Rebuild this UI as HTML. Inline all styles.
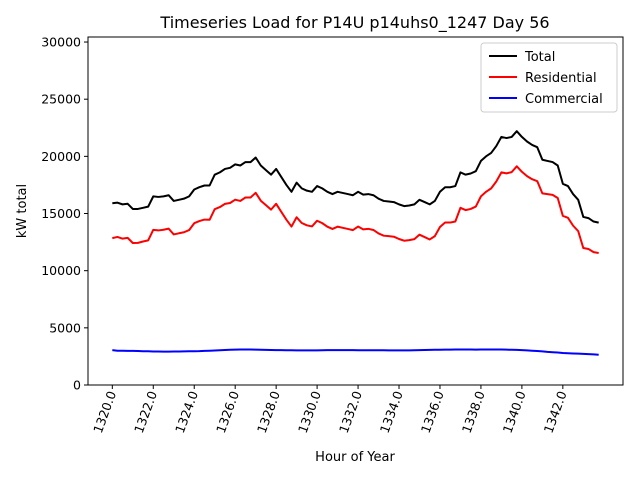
<!DOCTYPE html>
<html><head><meta charset="utf-8"><style>
body{margin:0;background:#fff}
svg text{font-family:"DejaVu Sans","Liberation Sans",sans-serif;fill:#000}
</style></head><body>
<svg id="chart" width="640" height="480" xmlns="http://www.w3.org/2000/svg">
<rect width="640" height="480" fill="#fff"/>
<text x="355" y="28" font-size="16" text-anchor="middle">Timeseries Load for P14U p14uhs0_1247  Day 56</text>
<g id="plot"></g>
<rect x="88" y="37" width="535" height="348" fill="none" stroke="#000" stroke-width="1"/>
<text transform="translate(26,211) rotate(-90)" font-size="13" text-anchor="middle">kW total</text>
<text x="355" y="461" font-size="13" text-anchor="middle">Hour of Year</text>
<g>
<rect x="481" y="43" width="136" height="69" rx="3" fill="#fff" stroke="#ccc"/>
<line x1="489" y1="56" x2="517" y2="56" stroke="#000" stroke-width="2"/>
<text x="525" y="61" font-size="13">Total</text>
<line x1="489" y1="77" x2="517" y2="77" stroke="#f00" stroke-width="2"/>
<text x="525" y="82" font-size="13">Residential</text>
<line x1="489" y1="98" x2="517" y2="98" stroke="#00f" stroke-width="2"/>
<text x="525" y="103" font-size="13">Commercial</text>
</g>
</svg>
<script>
const startHour = 1320;
const stepHours = 0.25;
const total = [15900,15950,15800,15850,15400,15400,15500,15600,
16500,16450,16500,16600,16100,16200,16300,16500,
17100,17300,17450,17450,18400,18600,18900,19000,
19300,19200,19500,19500,19900,19200,18800,18400,
18900,18200,17500,16900,17700,17200,17000,16900,
17400,17200,16900,16700,16900,16800,16700,16600,
16900,16650,16700,16600,16300,16100,16050,16000,
15800,15650,15700,15800,16200,16000,15800,16100,
16900,17300,17300,17400,18600,18400,18500,18700,
19600,20000,20300,20900,21700,21600,21700,22200,
21700,21300,21000,20800,19700,19600,19500,19200,
17600,17400,16700,16200,14700,14600,14300,14200];
const residential = [12850,12950,12800,12870,12420,12430,12550,12650,
13570,13520,13580,13680,13170,13270,13360,13550,
14150,14340,14470,14450,15380,15560,15840,15920,
16210,16100,16400,16400,16810,16120,15730,15340,
15850,15150,14460,13860,14670,14170,13970,13870,
14370,14160,13850,13650,13850,13750,13650,13550,
13860,13610,13660,13560,13260,13060,13020,12970,
12770,12620,12670,12760,13150,12940,12730,13020,
13820,14210,14210,14300,15500,15300,15400,15610,
16500,16900,17200,17800,18600,18510,18620,19130,
18650,18270,18000,17830,16760,16700,16630,16360,
14800,14620,13940,13460,11980,11900,11620,11550];
const commercial = [3050,3000,3000,2980,2980,2970,2950,2950,
2930,2930,2920,2920,2930,2930,2940,2950,
2950,2960,2980,3000,3020,3040,3060,3080,
3090,3100,3100,3100,3090,3080,3070,3060,
3050,3050,3040,3040,3030,3030,3030,3030,
3030,3040,3050,3050,3050,3050,3050,3050,
3040,3040,3040,3040,3040,3040,3030,3030,
3030,3030,3030,3040,3050,3060,3070,3080,
3080,3090,3090,3100,3100,3100,3100,3090,
3100,3100,3100,3100,3100,3090,3080,3070,
3050,3030,3000,2970,2940,2900,2870,2840,
2800,2780,2760,2740,2720,2700,2680,2650];
const yTicks = [0,5000,10000,15000,20000,25000,30000];
const xTicks = [1320,1322,1324,1326,1328,1330,1332,1334,1336,1338,1340,1342];

const X0=88,X1=623,Y0=385,Y1=37;
const xMin=1318.8125,xMax=1344.9375,yMin=0,yMax=30440;
function xs(h){return X0+(h-xMin)/(xMax-xMin)*(X1-X0);}
function ys(v){return Y0-(v-yMin)/(yMax-yMin)*(Y0-Y1);}
const NS="http://www.w3.org/2000/svg";
const g=document.getElementById('plot');
function mk(t,a){const e=document.createElementNS(NS,t);for(const k in a)e.setAttribute(k,a[k]);g.appendChild(e);return e;}

yTicks.forEach(v=>{
  const y=ys(v);
  const l=mk('line',{x1:X0-4,y1:y,x2:X0,y2:y,stroke:'#000'});
  
  
  const t=mk('text',{x:X0-7,y:y+4.5,'font-size':12.5,'text-anchor':'end'});
  
  
  t.textContent=v;
});
xTicks.forEach(h=>{
  const x=xs(h);
  const l=mk('line',{x1:x,y1:Y0,x2:x,y2:Y0+4,stroke:'#000'});
  
  
  const t=mk('text',{transform:`translate(${x+4},${Y0+8}) rotate(-70)`,'font-size':12.5,'text-anchor':'end'});
  
  
  t.textContent=h.toFixed(1);
});
function series(arr,color,name){
  const pts=arr.map((v,i)=>xs(startHour+i*stepHours).toFixed(2)+','+ys(v).toFixed(2)).join(' ');
  const p=mk('polyline',{points:pts,fill:'none',stroke:color,'stroke-width':2,'stroke-linejoin':'round'});
  
  
}
series(total,'#000','total-line');
series(residential,'#f00','residential-line');
series(commercial,'#00f','commercial-line');
</script>
</body></html>
